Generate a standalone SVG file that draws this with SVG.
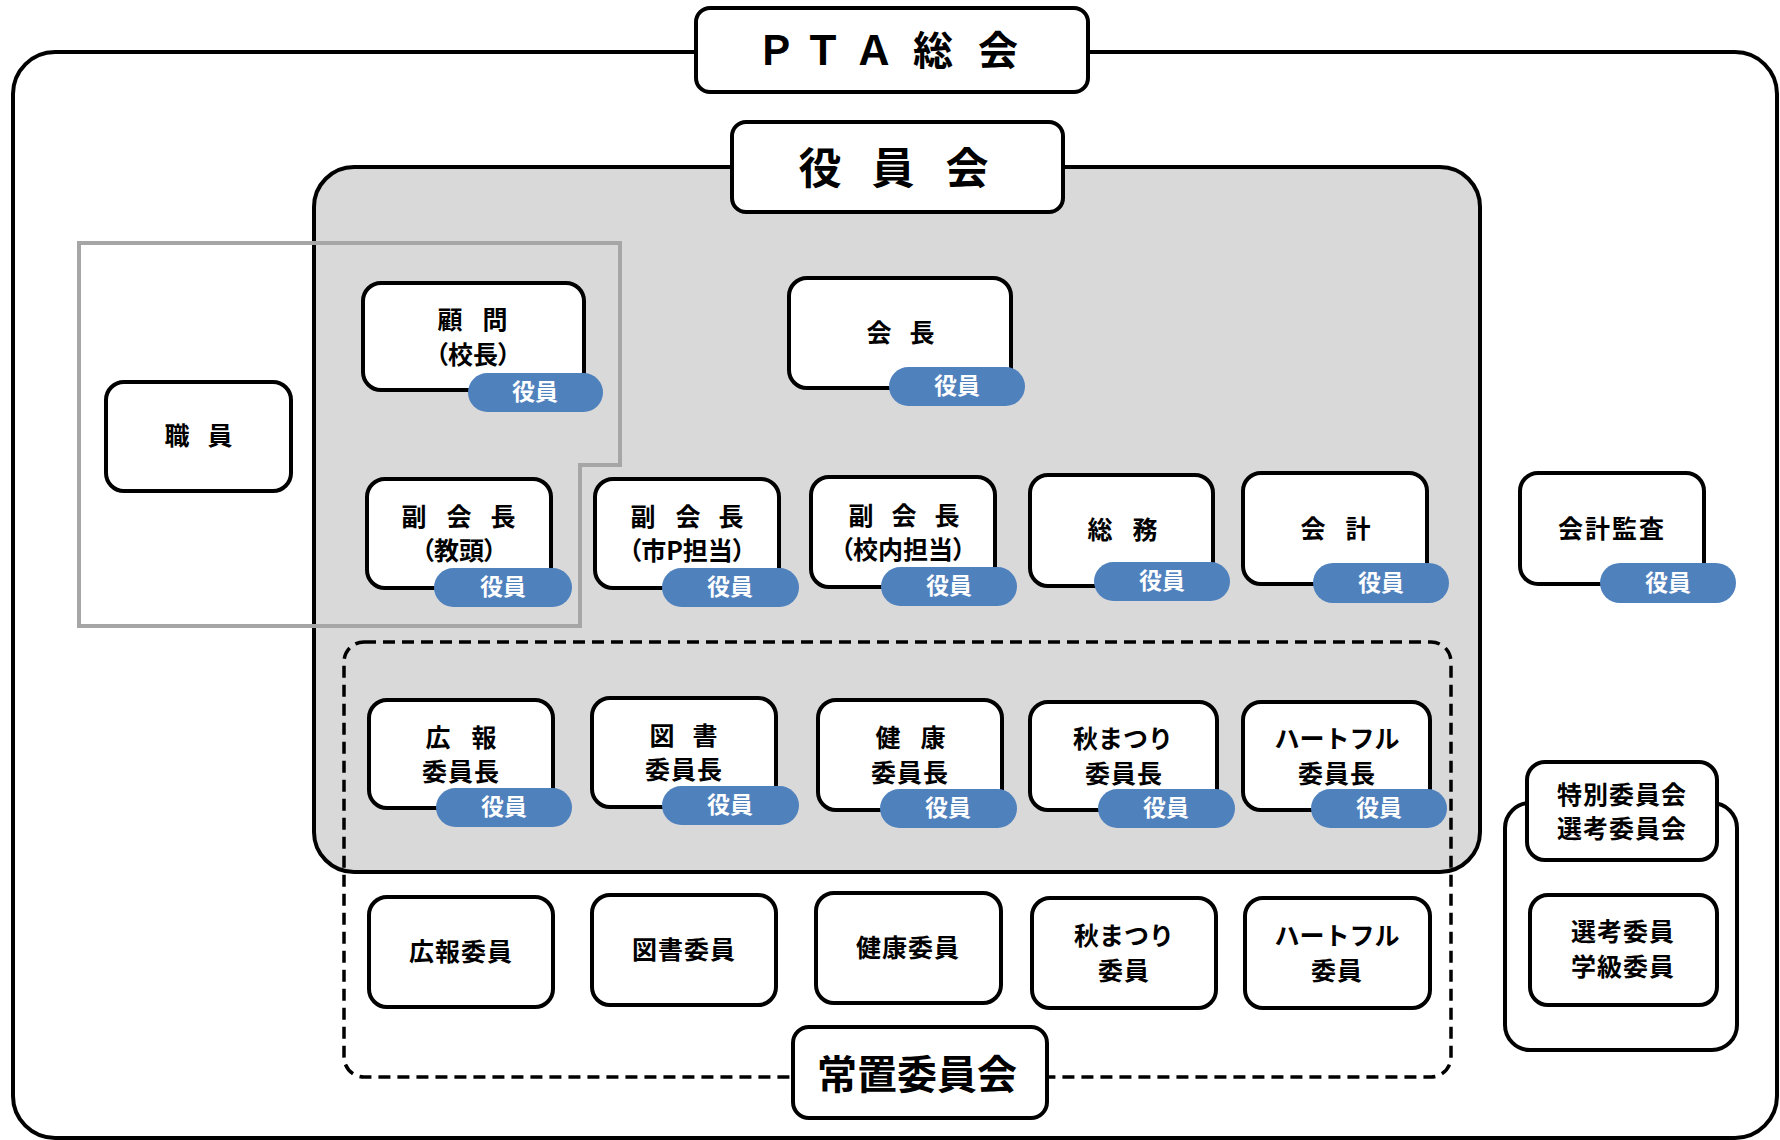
<svg xmlns="http://www.w3.org/2000/svg" width="1780" height="1140" viewBox="0 0 1780 1140">
  <style>
    .frame { fill: #fff; stroke: #000; stroke-width: 4; }
    .panel { fill: #d9d9d9; stroke: #000; stroke-width: 4; }
    .staff { fill: none; stroke: #a6a6a6; stroke-width: 4; }
    .dash { fill: none; stroke: #000; stroke-width: 3.5; stroke-dasharray: 12 7; }
    .box { fill: #fff; stroke: #000; stroke-width: 4; }
    .badge { fill: #4f81bd; }
    .t { font-family: "Noto Sans CJK JP", "Noto Sans", sans-serif; font-weight: 700; font-size: 25px; text-anchor: middle; fill: #000; }
    .p { font-feature-settings: "palt"; }
    .bt { font-family: "Noto Sans CJK JP", "Noto Sans", sans-serif; font-weight: 700; font-size: 23px; text-anchor: middle; fill: #fff; }
    .h1 { font-size: 40px; }
    .h2 { font-size: 43px; }
  </style>

  <!-- Containers: general assembly, board panel, staff outline, standing committee, special committees -->
  <g id="containers">
    <rect class="frame" x="13" y="52" width="1764" height="1086" rx="42"/>
    <rect class="panel" x="314" y="167" width="1166" height="705" rx="40"/>
    <rect class="dash" x="344" y="642" width="1107" height="435" rx="20"/>
    <rect class="frame" x="1505" y="803" width="232" height="247" rx="25"/>
    <polygon class="staff" points="79,243 620,243 620,465 580,465 580,626 79,626"/>
  </g>

  <g id="connectors"/>

  <!-- Headings -->
  <g id="pta-soukai">
    <rect class="box" x="696" y="8" width="392" height="84" rx="14"/>
    <text class="t h1" x="776 823 874 933 998" y="65">ＰＴＡ総会</text>
  </g>
  <g id="yakuinkai">
    <rect class="box" x="732" y="122" width="331" height="90" rx="14"/>
    <text class="t h2" x="820 893 967" y="184">役員会</text>
  </g>
  <g id="jouchi-iinkai">
    <rect class="box" x="793" y="1027" width="254" height="91" rx="16"/>
    <text class="t h1" x="917" y="1089">常置委員会</text>
  </g>

  <!-- Staff -->
  <g id="shokuin">
    <rect class="box" x="106" y="382" width="185" height="109" rx="18"/>
    <text class="t" x="177 220" y="445">職員</text>
  </g>

  <!-- Officers -->
  <g id="komon">
    <rect class="box" x="363" y="283" width="221" height="107" rx="18"/>
    <text class="t" x="450 495" y="329">顧問</text>
    <text class="t p" x="473" y="364">（校長）</text>
    <rect class="badge" x="468" y="373" width="135" height="39" rx="19.5"/>
    <text class="bt" x="535" y="400">役員</text>
  </g>
  <g id="kaichou">
    <rect class="box" x="789" y="278" width="222" height="110" rx="18"/>
    <text class="t" x="879 922" y="342">会長</text>
    <rect class="badge" x="889" y="367" width="136" height="39" rx="19.5"/>
    <text class="bt" x="957" y="394">役員</text>
  </g>
  <g id="fukukaichou-kyoutou">
    <rect class="box" x="367" y="479" width="184" height="109" rx="18"/>
    <text class="t" x="414 459 503" y="526">副会長</text>
    <text class="t p" x="459" y="560">（教頭）</text>
    <rect class="badge" x="434" y="568" width="138" height="39" rx="19.5"/>
    <text class="bt" x="503" y="595">役員</text>
  </g>
  <g id="fukukaichou-shi-p">
    <rect class="box" x="595" y="479" width="184" height="109" rx="18"/>
    <text class="t" x="643 688 731" y="526">副会長</text>
    <text class="t p" x="687" y="560">（市P担当）</text>
    <rect class="badge" x="662" y="568" width="137" height="39" rx="19.5"/>
    <text class="bt" x="730" y="595">役員</text>
  </g>
  <g id="fukukaichou-kounai">
    <rect class="box" x="811" y="477" width="184" height="110" rx="18"/>
    <text class="t" x="861 904 947" y="525">副会長</text>
    <text class="t p" x="903" y="559">（校内担当）</text>
    <rect class="badge" x="881" y="567" width="136" height="39" rx="19.5"/>
    <text class="bt" x="949" y="594">役員</text>
  </g>
  <g id="soumu">
    <rect class="box" x="1030" y="475" width="183" height="111" rx="18"/>
    <text class="t" x="1100 1145" y="539">総務</text>
    <rect class="badge" x="1094" y="562" width="136" height="39" rx="19.5"/>
    <text class="bt" x="1162" y="589">役員</text>
  </g>
  <g id="kaikei">
    <rect class="box" x="1243" y="473" width="184" height="111" rx="18"/>
    <text class="t" x="1313 1358" y="538">会計</text>
    <rect class="badge" x="1313" y="563" width="136" height="40" rx="20"/>
    <text class="bt" x="1381" y="591">役員</text>
  </g>
  <g id="kaikei-kansa">
    <rect class="box" x="1520" y="473" width="184" height="111" rx="18"/>
    <text class="t" x="1612" y="538" letter-spacing="2">会計監査</text>
    <rect class="badge" x="1600" y="563" width="136" height="40" rx="20"/>
    <text class="bt" x="1668" y="591">役員</text>
  </g>

  <!-- Committee chairs -->
  <g id="kouhou-iinchou">
    <rect class="box" x="369" y="700" width="184" height="108" rx="18"/>
    <text class="t" x="438 484" y="747">広報</text>
    <text class="t" x="461" y="781" letter-spacing="1">委員長</text>
    <rect class="badge" x="436" y="788" width="136" height="39" rx="19.5"/>
    <text class="bt" x="504" y="815">役員</text>
  </g>
  <g id="tosho-iinchou">
    <rect class="box" x="592" y="698" width="184" height="109" rx="18"/>
    <text class="t" x="662 705" y="745">図書</text>
    <text class="t" x="684" y="779" letter-spacing="1">委員長</text>
    <rect class="badge" x="662" y="786" width="137" height="39" rx="19.5"/>
    <text class="bt" x="730" y="813">役員</text>
  </g>
  <g id="kenkou-iinchou">
    <rect class="box" x="818" y="700" width="184" height="110" rx="18"/>
    <text class="t" x="888 933" y="747">健康</text>
    <text class="t" x="910" y="782" letter-spacing="1">委員長</text>
    <rect class="badge" x="880" y="789" width="137" height="39" rx="19.5"/>
    <text class="bt" x="948" y="816">役員</text>
  </g>
  <g id="akimatsuri-iinchou">
    <rect class="box" x="1030" y="702" width="187" height="108" rx="18"/>
    <text class="t" x="1123" y="748">秋まつり</text>
    <text class="t" x="1124" y="783" letter-spacing="1">委員長</text>
    <rect class="badge" x="1098" y="789" width="137" height="39" rx="19.5"/>
    <text class="bt" x="1166" y="816">役員</text>
  </g>
  <g id="heartful-iinchou">
    <rect class="box" x="1243" y="702" width="187" height="108" rx="18"/>
    <text class="t" x="1337" y="748">ハートフル</text>
    <text class="t" x="1337" y="783" letter-spacing="1">委員長</text>
    <rect class="badge" x="1311" y="789" width="136" height="39" rx="19.5"/>
    <text class="bt" x="1379" y="816">役員</text>
  </g>

  <!-- Committee members -->
  <g id="kouhou-iin">
    <rect class="box" x="369" y="897" width="184" height="110" rx="18"/>
    <text class="t" x="461" y="961" letter-spacing="1">広報委員</text>
  </g>
  <g id="tosho-iin">
    <rect class="box" x="592" y="895" width="184" height="110" rx="18"/>
    <text class="t" x="684" y="959" letter-spacing="1">図書委員</text>
  </g>
  <g id="kenkou-iin">
    <rect class="box" x="816" y="893" width="185" height="110" rx="18"/>
    <text class="t" x="908" y="957" letter-spacing="1">健康委員</text>
  </g>
  <g id="akimatsuri-iin">
    <rect class="box" x="1032" y="898" width="184" height="110" rx="18"/>
    <text class="t" x="1124" y="945">秋まつり</text>
    <text class="t" x="1124" y="980" letter-spacing="1">委員</text>
  </g>
  <g id="heartful-iin">
    <rect class="box" x="1245" y="898" width="185" height="110" rx="18"/>
    <text class="t" x="1337" y="945">ハートフル</text>
    <text class="t" x="1337" y="980" letter-spacing="1">委員</text>
  </g>

  <!-- Special committees -->
  <g id="tokubetsu-iinkai">
    <rect class="box" x="1527" y="762" width="190" height="98" rx="18"/>
    <text class="t" x="1622" y="804" letter-spacing="1">特別委員会</text>
    <text class="t" x="1622" y="838" letter-spacing="1">選考委員会</text>
  </g>
  <g id="senkou-gakkyuu-iin">
    <rect class="box" x="1530" y="895" width="187" height="110" rx="18"/>
    <text class="t" x="1623" y="941" letter-spacing="1">選考委員</text>
    <text class="t" x="1623" y="976" letter-spacing="1">学級委員</text>
  </g>
</svg>
